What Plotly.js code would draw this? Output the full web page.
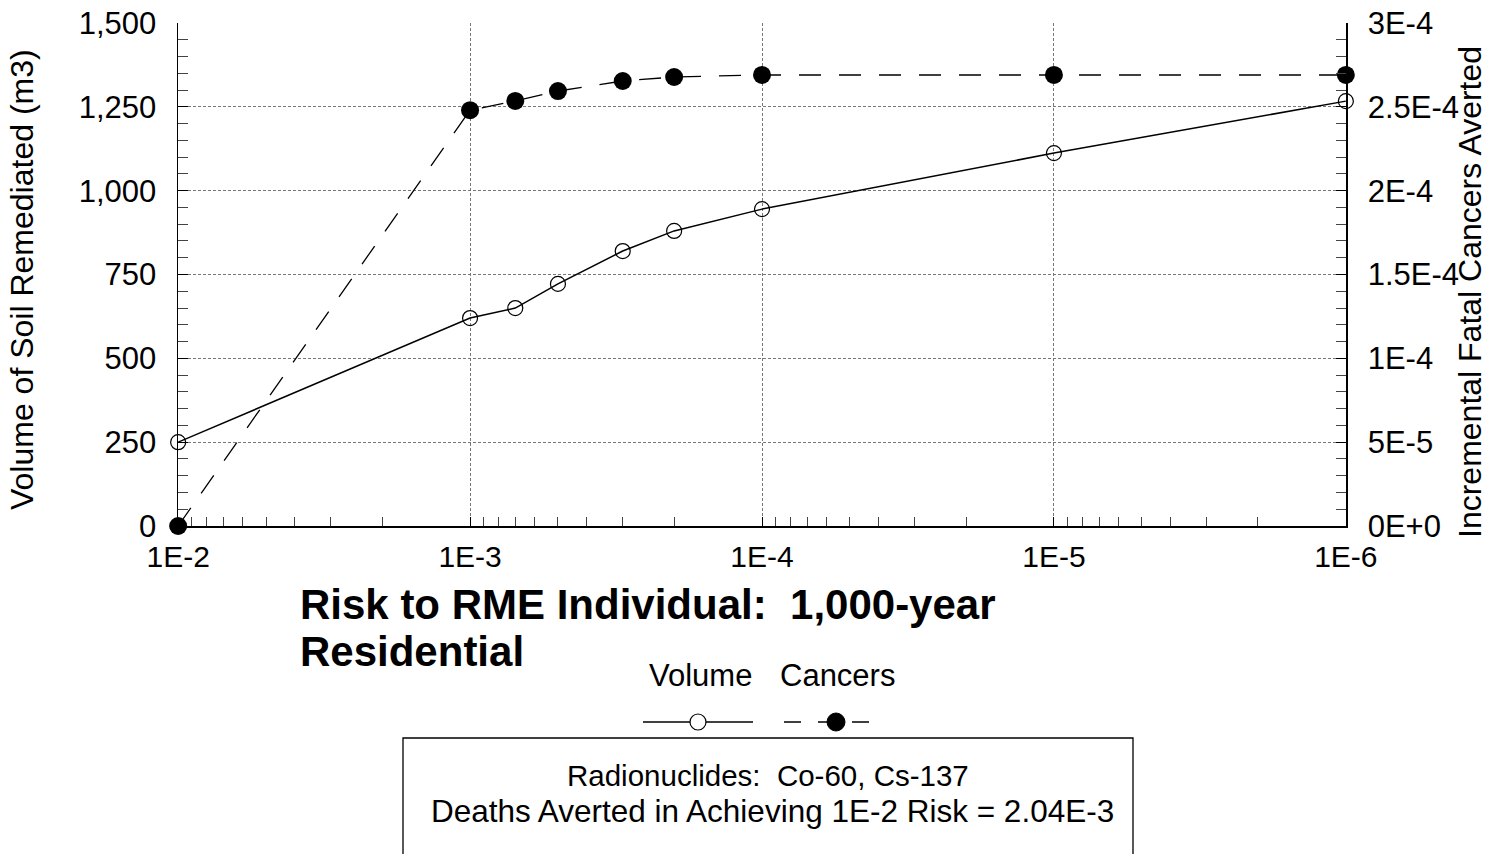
<!DOCTYPE html>
<html>
<head>
<meta charset="utf-8">
<script src="https://cdn.plot.ly/plotly-3.0.1.min.js"></script>
<style>html,body{margin:0;padding:0;background:#fff;}#chart{width:1496px;height:854px;}</style>
</head>
<body>
<div id="chart"></div>
<script>
// Risk levels (x) for each point
const riskLevels = [1e-2, 1e-3, 7e-4, 5e-4, 3e-4, 2e-4, 1e-4, 1e-5, 1e-6];
// Volume of soil remediated (m3)
const volumeValues = [250, 620, 650, 722, 820, 880, 945, 1112, 1267];
// Incremental fatal cancers averted
const cancerValues = [0, 2.48e-4, 2.535e-4, 2.594e-4, 2.654e-4, 2.678e-4, 2.69e-4, 2.69e-4, 2.69e-4];

const xTickVals = [1e-2, 1e-3, 1e-4, 1e-5, 1e-6];
const xTickText = ['1E-2', '1E-3', '1E-4', '1E-5', '1E-6'];
const y2TickVals = [0, 5e-5, 1e-4, 1.5e-4, 2e-4, 2.5e-4, 3e-4];
const y2TickText = ['0E+0', '5E-5', '1E-4', '1.5E-4', '2E-4', '2.5E-4', '3E-4'];
const seriesNames = ['Volume', 'Cancers'];
const titleLines = ['Risk to RME Individual:  1,000-year', 'Residential'];
const yTitles = ['Volume of Soil Remediated (m3)', 'Incremental Fatal Cancers Averted'];
const boxLines = ['Radionuclides:  Co-60, Cs-137', 'Deaths Averted in Achieving 1E-2 Risk = 2.04E-3'];

const FONT = 'Liberation Sans, Arial, Helvetica, sans-serif';
const W = 1496, H = 854;
const M = {l: 178, r: 150, t: 23, b: 328};
const PW = W - M.l - M.r, PH = H - M.t - M.b;
// pixel -> paper helpers (for decorations only)
const px = x => (x - M.l) / PW;
const py = y => (H - M.b - y) / PH;

const traces = [
  {
    x: riskLevels, y: volumeValues, name: seriesNames[0], type: 'scatter', mode: 'lines+markers',
    line: {color: '#000', width: 1.5},
    marker: {symbol: 'circle-open', size: 15, color: '#000', line: {width: 1.2}},
    cliponaxis: false, showlegend: false
  },
  {
    x: riskLevels, y: cancerValues, name: seriesNames[1], type: 'scatter', mode: 'lines+markers', yaxis: 'y2',
    line: {color: '#000', width: 1.3, dash: '22px,18px'},
    marker: {symbol: 'circle', size: 18, color: '#000'},
    cliponaxis: false, showlegend: false
  }
];

const gridDash = '3px,2px';
const TICK = 31;
const layout = {
  width: W, height: H,
  margin: M,
  paper_bgcolor: '#fff', plot_bgcolor: '#fff',
  font: {family: FONT, size: TICK, color: '#000'},
  showlegend: false,
  xaxis: {
    type: 'log', range: [-1.9995, -6.0005],
    tickmode: 'array', tickvals: xTickVals, ticktext: xTickText,
    ticks: 'inside', ticklen: 9, tickcolor: '#000',
    showgrid: true, gridcolor: '#777', griddash: gridDash, gridwidth: 1,
    showline: true, linecolor: '#000', linewidth: 1.5, mirror: false,
    zeroline: false,
    tickfont: {size: 30},
    ticklabelstandoff: 3,
    minor: {ticks: 'inside', ticklen: 9, tickcolor: '#444', tickwidth: 1, dtick: 'D1', showgrid: false}
  },
  yaxis: {
    range: [0, 1500], tickmode: 'linear', tick0: 0, dtick: 250, tickformat: ',d',
    ticks: 'inside', ticklen: 10, tickcolor: '#000',
    showgrid: true, gridcolor: '#777', griddash: gridDash, gridwidth: 1,
    showline: true, linecolor: '#000', linewidth: 1.5,
    zeroline: false,
    tickfont: {size: TICK},
    ticklabelstandoff: 14,
    minor: {ticks: 'inside', ticklen: 10, tickcolor: '#444', dtick: 50, showgrid: false}
  },
  yaxis2: {
    overlaying: 'y', side: 'right', range: [0, 3e-4],
    tickmode: 'array', tickvals: y2TickVals, ticktext: y2TickText,
    ticks: 'inside', ticklen: 10, tickcolor: '#000',
    showgrid: false, zeroline: false,
    showline: true, linecolor: '#000', linewidth: 1.5,
    tickfont: {size: TICK},
    ticklabelstandoff: 14,
    minor: {ticks: 'inside', ticklen: 10, tickcolor: '#444', tick0: 0, dtick: 1e-5, showgrid: false}
  },
  annotations: [
    {xref: 'paper', yref: 'paper', x: px(22), y: py(280), text: yTitles[0],
     textangle: -90, showarrow: false, xanchor: 'center', yanchor: 'middle', font: {size: 32}},
    {xref: 'paper', yref: 'paper', x: px(1470), y: py(292), text: yTitles[1],
     textangle: -90, showarrow: false, xanchor: 'center', yanchor: 'middle', font: {size: 32}},
    {xref: 'paper', yref: 'paper', x: px(298), y: py(604), xanchor: 'left', yanchor: 'middle', align: 'left',
     text: '<b>' + titleLines[0] + '</b>', showarrow: false, font: {size: 42}},
    {xref: 'paper', yref: 'paper', x: px(298), y: py(652), xanchor: 'left', yanchor: 'middle', align: 'left',
     text: '<b>' + titleLines[1] + '</b>', showarrow: false, font: {size: 42}},
    {xref: 'paper', yref: 'paper', x: px(700), y: py(675), text: seriesNames[0], showarrow: false,
     xanchor: 'center', yanchor: 'middle', font: {size: 31}},
    {xref: 'paper', yref: 'paper', x: px(837), y: py(675), text: seriesNames[1], showarrow: false,
     xanchor: 'center', yanchor: 'middle', font: {size: 31}},
    {xref: 'paper', yref: 'paper', x: px(768), y: py(775), text: boxLines[0], showarrow: false,
     xanchor: 'center', yanchor: 'middle', font: {size: 29.5}},
    {xref: 'paper', yref: 'paper', x: px(772), y: py(811), text: boxLines[1], showarrow: false,
     xanchor: 'center', yanchor: 'middle', font: {size: 31.5}}
  ],
  shapes: [
    // legend samples
    {type: 'line', xref: 'paper', yref: 'paper', x0: px(643), x1: px(753), y0: py(722), y1: py(722),
     line: {color: '#000', width: 1.3}},
    {type: 'circle', xref: 'paper', yref: 'paper', xsizemode: 'pixel', ysizemode: 'pixel',
     xanchor: px(698), yanchor: py(722), x0: -8, x1: 8, y0: -8, y1: 8,
     fillcolor: '#fff', line: {color: '#000', width: 1.2}},
    {type: 'line', xref: 'paper', yref: 'paper', x0: px(784), x1: px(874), y0: py(722), y1: py(722),
     line: {color: '#000', width: 1.3, dash: '17px,17px'}},
    {type: 'circle', xref: 'paper', yref: 'paper', xsizemode: 'pixel', ysizemode: 'pixel',
     xanchor: px(836), yanchor: py(722), x0: -9, x1: 9, y0: -9, y1: 9,
     fillcolor: '#000', line: {color: '#000', width: 1}},
    // note box
    {type: 'rect', xref: 'paper', yref: 'paper', x0: px(403), x1: px(1133), y0: py(738), y1: py(880),
     line: {color: '#000', width: 1.3}, fillcolor: 'rgba(0,0,0,0)'}
  ]
};

Plotly.newPlot('chart', traces, layout, {displayModeBar: false, staticPlot: true});
</script>
</body>
</html>
